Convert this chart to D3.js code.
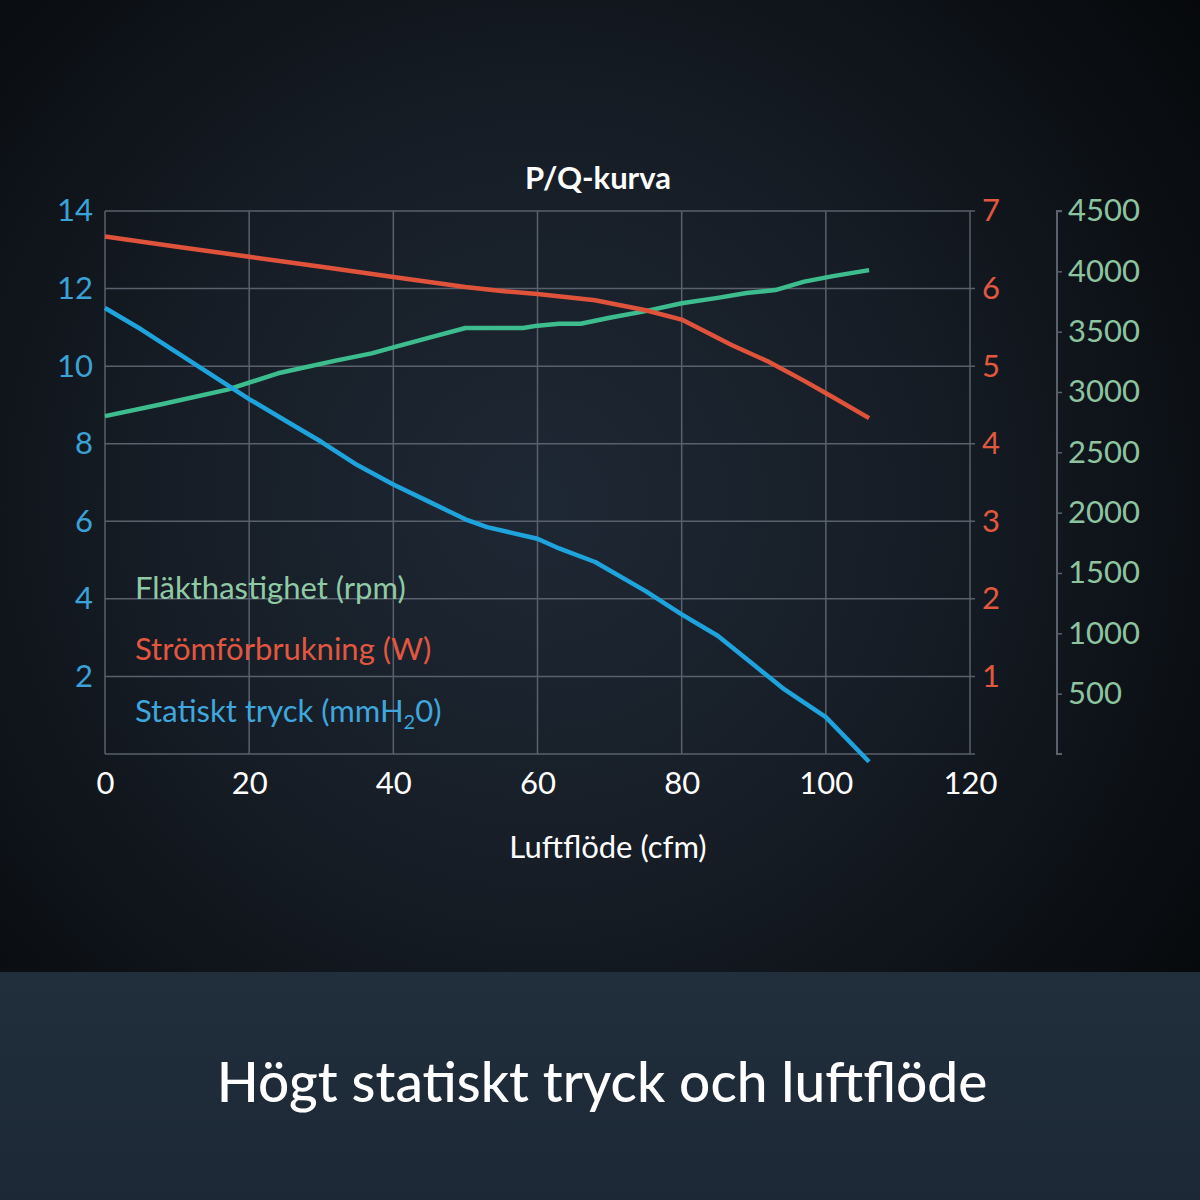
<!DOCTYPE html>
<html>
<head>
<meta charset="utf-8">
<script src="https://cdn.jsdelivr.net/npm/d3@7"></script>
<style>
  html, body { margin: 0; padding: 0; background: #0b0e12; }
  svg { display: block; font-family: Lato, "Open Sans", sans-serif; }
</style>
</head>
<body>
<div id="chart"></div>
<script>
// flow (cfm) samples per series
var flowPressure = [0, 5, 10, 15, 20, 25, 30, 35, 40, 45, 50, 53, 60, 63, 68, 75, 80, 85, 90, 94, 100, 106];
var pressure = [11.5, 10.95, 10.35, 9.75, 9.15, 8.6, 8.05, 7.45, 6.95, 6.5, 6.05, 5.85, 5.55, 5.3, 4.95, 4.2, 3.6, 3.05, 2.3, 1.7, 0.95, -0.2];

var flowPower = [0, 10, 20, 30, 40, 50, 55, 60, 68, 75, 80, 87, 92, 97, 101, 106];
var power = [6.67, 6.54, 6.41, 6.28, 6.15, 6.02, 5.97, 5.93, 5.85, 5.72, 5.6, 5.27, 5.06, 4.81, 4.6, 4.33];

var flowRpm = [0, 8, 17, 24, 32, 37, 40, 45, 50, 58, 60, 63, 66, 70, 75, 80, 85, 89, 93, 97, 101, 106];
var rpm = [2800, 2900, 3020, 3155, 3260, 3320, 3370, 3450, 3530, 3530, 3550, 3565, 3565, 3615, 3670, 3735, 3780, 3820, 3845, 3915, 3960, 4010];

var xTicks = [0, 20, 40, 60, 80, 100, 120];
var pressureTicks = [2, 4, 6, 8, 10, 12, 14];
var powerTicks = [1, 2, 3, 4, 5, 6, 7];
var rpmTicks = [500, 1000, 1500, 2000, 2500, 3000, 3500, 4000, 4500];

var legendLabels = ["Fläkthastighet (rpm)", "Strömförbrukning (W)", "Statiskt tryck (mmH"];

var W = 1200, H = 1200;
var margin = {top: 211, right: 230, bottom: 446, left: 105};
var width = W - margin.left - margin.right,
    height = H - margin.top - margin.bottom;

var blue = "#1fa3dc", red = "#e0533b", green = "#3dbd8e";
var gridCol = "#59616c";
var fs = 31;

var svg = d3.select("#chart").append("svg")
    .attr("width", W)
    .attr("height", H);

// background
var defs = svg.append("defs");
var rg = defs.append("radialGradient")
    .attr("id", "bg")
    .attr("cx", "45%").attr("cy", "42%").attr("r", "70%");
rg.append("stop").attr("offset", "0%").attr("stop-color", "#1e2834");
rg.append("stop").attr("offset", "45%").attr("stop-color", "#161d26");
rg.append("stop").attr("offset", "100%").attr("stop-color", "#06080a");

var bandGrad = defs.append("linearGradient")
    .attr("id", "band").attr("x1", 0).attr("y1", 0).attr("x2", 0).attr("y2", 1);
bandGrad.append("stop").attr("offset", "0%").attr("stop-color", "#212e3c");
bandGrad.append("stop").attr("offset", "100%").attr("stop-color", "#1c2835");

svg.append("rect").attr("width", W).attr("height", H).attr("fill", "url(#bg)");
svg.append("rect").attr("y", 972).attr("width", W).attr("height", H - 972).attr("fill", "url(#band)");

svg.append("text")
    .attr("x", 602).attr("y", 1102)
    .attr("text-anchor", "middle")
    .attr("fill", "#ffffff")
    .attr("font-size", 55)
    .attr("font-weight", 500)
    .text("Högt statiskt tryck och luftflöde");

var g = svg.append("g")
    .attr("transform", "translate(" + margin.left + "," + margin.top + ")");

// scales
var x = d3.scaleLinear().domain([0, 120]).range([0, width]);
var yP = d3.scaleLinear().domain([0, 14]).range([height, 0]);
var yW = d3.scaleLinear().domain([0, 7]).range([height, 0]);
var yR = d3.scaleLinear().domain([0, 4500]).range([height, 0]);

// grid
g.append("g").selectAll("line.h")
    .data(pressureTicks.concat([0]))
    .enter().append("line")
      .attr("x1", 0).attr("x2", width + 5)
      .attr("y1", d => yP(d)).attr("y2", d => yP(d))
      .attr("stroke", gridCol).attr("stroke-width", 1.5);

g.append("g").selectAll("line.v")
    .data(xTicks)
    .enter().append("line")
      .attr("x1", d => x(d)).attr("x2", d => x(d))
      .attr("y1", 0).attr("y2", height)
      .attr("stroke", gridCol).attr("stroke-width", 1.5);

// x axis
var xAxis = g.append("g")
    .attr("transform", "translate(0," + height + ")")
    .call(d3.axisBottom(x).tickValues(xTicks).tickSize(0).tickPadding(18).tickFormat(d3.format("d")));
xAxis.select(".domain").remove();
xAxis.selectAll("text")
    .attr("fill", "#ffffff").attr("font-size", fs).attr("font-family", "Lato");

g.append("text")
    .attr("x", 503).attr("y", 647)
    .attr("text-anchor", "middle")
    .attr("fill", "#ffffff").attr("font-size", fs)
    .text("Luftflöde (cfm)");

// left axis (pressure)
var leftAxis = g.append("g")
    .call(d3.axisLeft(yP).tickValues(pressureTicks).tickSize(0).tickPadding(12).tickFormat(d3.format("d")));
leftAxis.select(".domain").remove();
leftAxis.selectAll("text")
    .attr("fill", "#3ba2d8").attr("font-size", fs).attr("font-family", "Lato");

// right axis (power)
var rightAxis = g.append("g")
    .attr("transform", "translate(" + width + ",0)")
    .call(d3.axisRight(yW).tickValues(powerTicks).tickSize(0).tickPadding(12).tickFormat(d3.format("d")));
rightAxis.select(".domain").remove();
rightAxis.selectAll("text")
    .attr("fill", "#e0583f").attr("font-size", fs).attr("font-family", "Lato");

// far right axis (rpm)
var rpmAxis = g.append("g")
    .attr("transform", "translate(" + (width + 87) + ",0)")
    .call(d3.axisRight(yR).tickValues(rpmTicks).tickSize(5).tickPadding(6).tickFormat(d3.format("d")));
rpmAxis.select(".domain")
    .attr("stroke", gridCol).attr("stroke-width", 2)
    .attr("d", "M5,0H0V" + height + "H5");
rpmAxis.selectAll(".tick line").attr("stroke", gridCol).attr("stroke-width", 1.5);
rpmAxis.selectAll("text")
    .attr("fill", "#8cc4a0").attr("font-size", fs).attr("font-family", "Lato");

// series
function series(xs, ys, yScale, color) {
  var pts = xs.map((d, i) => [d, ys[i]]);
  g.append("path")
      .datum(pts)
      .attr("fill", "none")
      .attr("stroke", color)
      .attr("stroke-width", 4.5)
      .attr("stroke-linejoin", "round")
      .attr("d", d3.line()
        .x(d => x(d[0]))
        .y(d => yScale(d[1])));
}
series(flowRpm, rpm, yR, green);
series(flowPower, power, yW, red);
series(flowPressure, pressure, yP, blue);

// title
svg.append("text")
    .attr("x", 598).attr("y", 189)
    .attr("text-anchor", "middle")
    .attr("fill", "#ffffff").attr("font-size", fs).attr("font-weight", "bold")
    .text("P/Q-kurva");

// legend
var legColors = ["#8fcaa5", "#e2573f", "#3fa7de"];
var legY = [599, 660, 722];
legendLabels.forEach(function(lbl, i) {
  var t = svg.append("text")
      .attr("x", 135).attr("y", legY[i])
      .attr("fill", legColors[i]).attr("font-size", fs)
      .text(lbl);
  if (i == 2) {
    t.append("tspan").attr("font-size", 20).attr("dy", 7).text("2");
    t.append("tspan").attr("dy", -7).text("0)");
  }
});
</script>
</body>
</html>
